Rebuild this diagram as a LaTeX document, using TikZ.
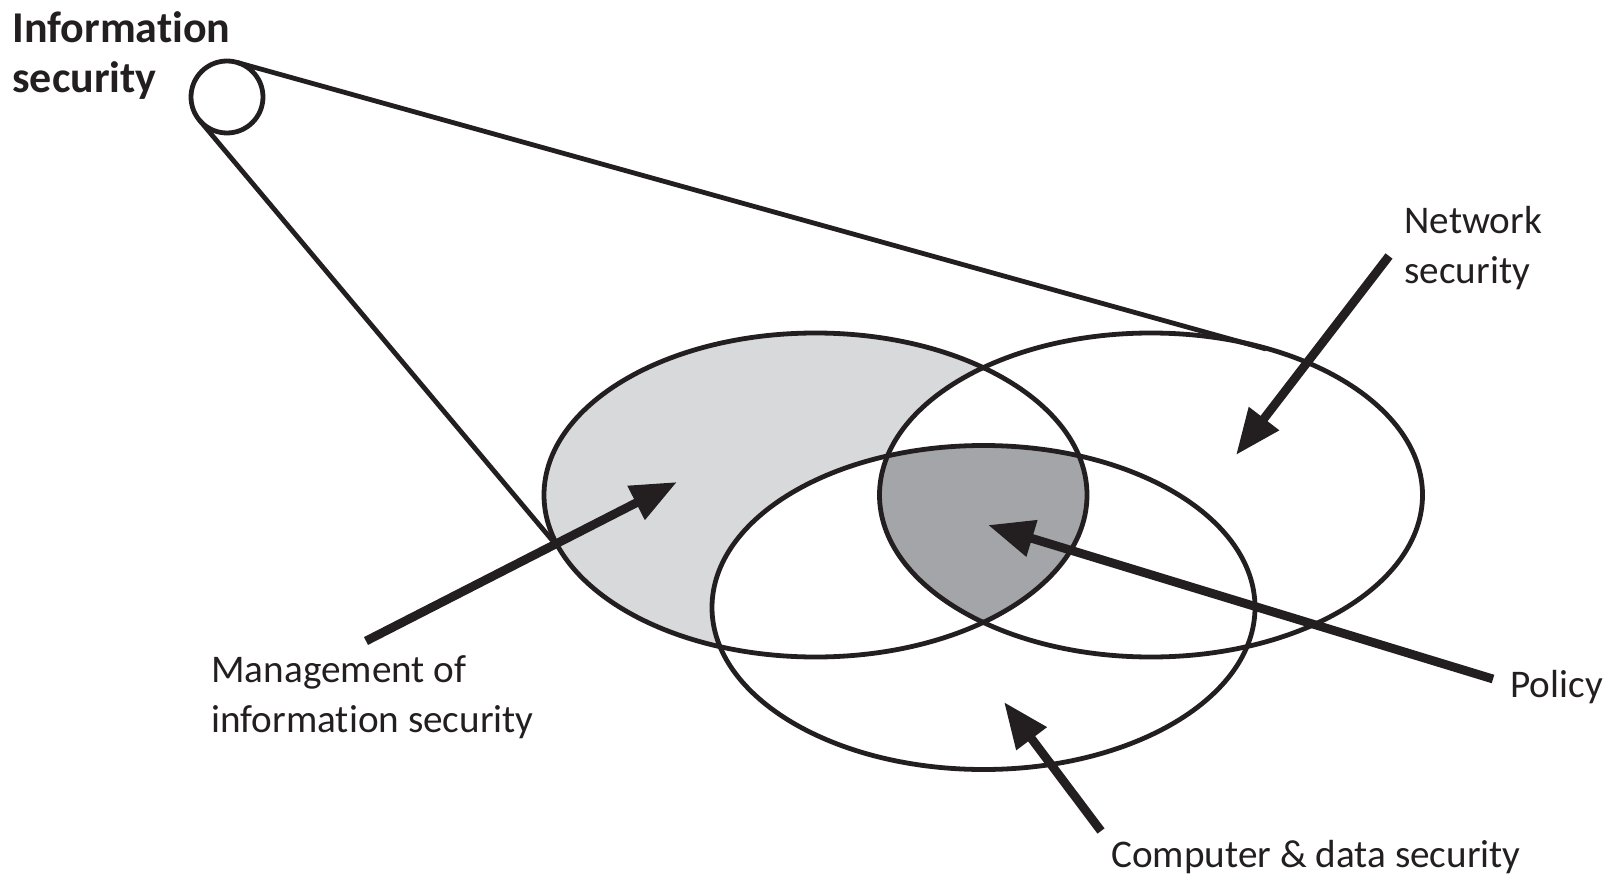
\documentclass[tikz,border=0pt]{standalone}
\usepackage{fontspec}
\setmainfont{Carlito}[Ligatures={NoCommon, NoContextual}]
\usetikzlibrary{arrows.meta}
\usetikzlibrary{positioning}

\definecolor{ink}{HTML}{231F20}
\definecolor{lightfill}{HTML}{D8D9DB}
\definecolor{darkfill}{HTML}{A4A5A8}

\tikzset{
  blob/.style={x radius=135.75pt, y radius=81pt},
  outline/.style={draw=ink, line width=2.4pt},
  pointer/.style={draw=ink, line width=4.4pt, -{Triangle[length=23pt, width=18pt]}},
  caption/.style={font=\fontsize{19.6pt}{25pt}\selectfont, text=ink, inner sep=0pt,
    anchor=base west, align=left}
}

\begin{document}
\begin{tikzpicture}[x=0.5pt, y=-0.5pt]
    \useasboundingbox (0, 0) rectangle (1616, 877);

    \coordinate (mgmt) at (815.5, 495);
    \coordinate (netw) at (1151, 495);
    \coordinate (comp) at (983.5, 607.5);

    % shaded parts
    \fill [lightfill] (mgmt) ellipse [blob];
    \fill [white] (netw) ellipse [blob];
    \fill [white] (comp) ellipse [blob];
    \begin{scope}
      \clip (mgmt) ellipse [blob];
      \clip (netw) ellipse [blob];
      \fill [darkfill] (comp) ellipse [blob];
    \end{scope}

    \draw [outline] (mgmt) ellipse [blob];
    \draw [outline] (netw) ellipse [blob];
    \draw [outline] (comp) ellipse [blob];

    % zoom lines from the small circle
    \node [draw=ink, line width=2.4pt, circle, minimum size=36pt, inner sep=0pt, outer sep=0pt] (infosec) at (227, 97) {};
    \coordinate (nettouch) at (1266, 349);
    \coordinate (mgmtcut) at (557, 546);
    \draw [outline] (infosec.74) -- (nettouch);
    \draw [outline] (infosec.220) -- (mgmtcut);

    % the base anchor sits on the last line
    \node [caption, font=\fontsize{22pt}{25pt}\selectfont\bfseries] (titlelbl) at (12, 93) {Information\\security};
    \node [caption] (netlbl) at (1404, 284) {Network\\security};
    \node [caption] (mgmtlbl) at (211, 732) {Management of\\information security};
    \node [caption] (pollbl) at (1510, 697) {Policy};
    \node [caption] (complbl) at (1111, 867) {Computer \& data security};

    \coordinate (netfrom) at (1389, 256);
    \coordinate (nettip) at (1236, 455);
    \coordinate (mgmtfrom) at (366, 641);
    \coordinate (mgmttip) at (677, 482);
    \coordinate (polfrom) at (1493, 679);
    \coordinate (poltip) at (988, 525);
    \coordinate (compfrom) at (1101, 831);
    \coordinate (comptip) at (1004, 702);

    \draw [pointer] (netfrom) -- (nettip);
    \draw [pointer] (mgmtfrom) -- (mgmttip);
    \draw [pointer] (polfrom) -- (poltip);
    \draw [pointer] (compfrom) -- (comptip);
  \end{tikzpicture}
\end{document}
